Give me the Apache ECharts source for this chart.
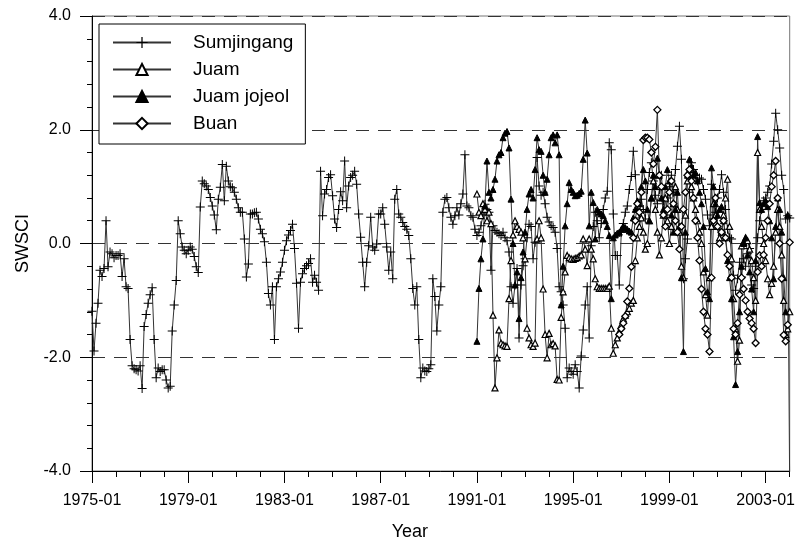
<!DOCTYPE html>
<html>
<head>
<meta charset="utf-8">
<script src="https://cdn.jsdelivr.net/npm/echarts@6/dist/echarts.min.js"></script>
<style>
  html, body { margin: 0; padding: 0; background: #fff; }
  #main { width: 798px; height: 546px; }
</style>
</head>
<body>
<div id="main"></div>
<script>
// monthly categories 1975-01 .. 2004-01
var months = [];
for (var y = 1975; y <= 2004; y++) {
  for (var mo = 1; mo <= 12; mo++) {
    if (y == 2004 && mo > 1) break;
    months.push(y + '-' + (mo < 10 ? '0' + mo : mo));
  }
}

var yTicks = [-4, -2, 0, 2, 4];

// Sumjingang, 1975-01 .. 2004-01
var sumjingang = [
  -1.19, -1.89, -1.40, -1.05, -0.47, -0.58, -0.44, 0.40, -0.41, -0.15, -0.18, -0.25,
  -0.21, -0.21, -0.18, -0.58, -0.27, -0.76, -0.79, -1.69, -2.15, -2.20, -2.22, -2.24,
  -2.15, -2.55, -1.46, -1.25, -1.05, -0.90, -0.78, -1.69, -2.36, -2.19, -2.25, -2.22,
  -2.22, -2.40, -2.54, -2.51, -1.54, -1.08, -0.65, 0.40, 0.17, -0.06, -0.12, -0.18,
  -0.12, -0.06, -0.10, -0.23, -0.41, -0.51, 0.64, 1.10, 1.05, 1.01, 0.95, 0.81,
  0.66, 0.50, 0.24, 0.78, 0.99, 1.39, 0.75, 1.36, 1.10, 1.00, 0.98, 0.90,
  0.78, 0.63, 0.55, 0.55, 0.08, -0.59, -0.36, 0.52, 0.52, 0.54, 0.55, 0.43,
  0.25, 0.17, 0.03, -0.33, -0.88, -1.08, -0.76, -1.69, -0.76, -0.62, -0.50, -0.33,
  -0.12, 0.05, 0.15, 0.23, 0.34, -0.09, -0.70, -1.49, -0.68, -0.53, -0.44, -0.39,
  -0.35, -0.27, -0.68, -0.56, -0.68, -0.82, 1.27, 0.49, 0.87, 0.95, 1.16, 1.21,
  0.84, 0.43, 0.28, 0.60, 0.91, 0.75, 1.45, 0.63, 1.01, 1.16, 1.20, 1.27,
  1.04, 0.52, 0.11, -0.33, -0.76, -0.33, -0.04, 0.46, -0.06, -0.12, -0.01, 0.52,
  0.52, 0.63, 0.34, -0.06, -0.47, -0.15, -0.62, 0.78, 0.95, 0.52, 0.46, 0.37,
  0.30, 0.25, 0.14, -0.27, -0.79, -1.08, -0.76, -1.69, -2.36, -2.19, -2.24, -2.25,
  -2.20, -2.13, -0.62, -0.93, -1.54, -1.08, -0.76, 0.55, 0.78, 0.81, 0.63, 0.46,
  0.34, 0.49, 0.63, 0.50, 0.70, 0.87, 1.56, 0.66, 0.63, 0.49, 0.46, 0.25,
  0.14, 0.20, 0.31, 0.50, 0.69, 0.60, 0.55, -0.47, 0.31, 0.23, 0.20, 0.17,
  0.14, 0.20, 0.10, 0.05, -0.15, -0.76, -1.05, -0.73, -0.44, -1.66, -0.73, -0.39,
  -0.27, 0.10, 0.34, 0.30, -0.27, 0.02, 1.51, 1.01, 0.85, 0.90, 0.70, 0.46,
  0.38, 0.31, 0.28, 0.20, -0.09, -0.76, -0.85, -1.08, -1.49, -2.36, -2.19, -2.25,
  -2.30, -2.13, -2.25, -2.54, -1.98, -1.52, -1.08, -0.76, -1.66, -0.04, 0.30, 0.55,
  0.40, 0.10, 0.35, 0.60, 0.80, 0.92, 1.77, 1.65, 0.52, -0.21, -0.21, -0.73,
  0.20, 0.35, 0.55, 0.66, 0.95, 1.18, 1.62, 1.21, 0.60, 0.45, 0.78, 0.60,
  0.43, 0.95, 1.25, 1.42, 1.10, 0.85, 0.70, 0.95, 1.20, 0.75, 0.50, 0.80,
  1.00, 1.20, 0.90, 1.30, 1.71, 2.06, 1.48, -0.62, -0.27, 0.08, 0.90, 1.42,
  1.30, 1.20, 1.10, 1.15, 1.13, 0.95, 0.78, 0.50, 0.31, 1.04, 0.43, 0.55,
  0.80, 0.95, 1.21, 0.90, 0.60, 0.25, 0.10, 0.08, -0.56, -0.82, -0.62, -0.33,
  -0.59, -0.27, -0.40, -0.18, -0.09, -0.73, -0.79, -0.40, 0.10, 0.40, 0.60, 0.75,
  0.80, 0.90, 1.01, 1.40, 1.80, 2.29, 2.00, 1.68, 1.20, 0.95, 0.43, 0.49,
  0.45
];

// Juam, 1991-01 .. 2004-01
var juamStart = '1991-01';
var juam = [
  0.87, 0.55, 0.49, 0.70, 0.60, 0.40, 0.55, 0.35, -1.26, -2.54, -2.01, -1.52,
  -1.75, -1.78, -1.80, -1.81, -0.97, -0.30, 0.15, 0.40, 0.30, 0.25, 0.20, 0.10,
  -0.27, -1.49, -1.66, -1.78, -1.81, -1.75, 0.08, 0.40, 0.10, -0.80, -1.60, -2.01,
  -1.58, -1.78, -1.76, -1.80, -2.39, -2.40, -1.30, -0.85, -0.50, -0.21, -0.25, -0.27,
  -0.28, -0.26, -0.25, -0.22, -0.20, 0.08, -0.10, -0.39, 0.08, -0.10, -0.27, -0.62,
  -0.76, -0.79, -0.79, -0.79, -0.79, -0.79, -0.75, -1.49, -1.93, -1.78, -1.66, -1.55,
  -1.43, -1.32, -1.26, -1.20, -1.14, -1.05, -1.00, -0.30, 0.10, 0.30, 0.45, 0.20,
  -0.10, 0.00, 0.40, 0.80, 1.10, 0.60, 0.20, -0.20, 0.10, 0.50, 0.80, 0.40,
  0.00, 0.30, 0.70, 1.00, 0.60, 0.20, -0.40, -0.60, 0.50, 1.10, 1.30, 1.00,
  0.80, 0.60, 0.40, 0.20, 0.00, -0.50, -0.90, -1.26, -0.60, 0.30, 0.70, 0.50,
  0.30, 0.10, 0.20, 0.50, 0.80, 1.13, 0.30, -0.27, -0.97, -1.50, -2.07, -1.70,
  -0.04, 0.02, 0.10, 0.05, -0.10, -0.30, -0.60, -1.00, 1.60, 0.60, 0.30, 0.00,
  -0.30, -0.62, -0.90, -0.70, -0.40, 0.20, 0.60, 0.30, -0.20, -1.00, -1.60, -1.50,
  -1.20
];

// Juam jojeol, 1991-01 .. 2004-01
var jojeolStart = '1991-01';
var jojeol = [
  -1.72, -0.79, -0.27, 0.08, 0.66, 1.45, 0.90, 0.80, 0.95, 1.13, 1.45, 1.56,
  1.60, 1.86, 1.94, 1.97, 1.68, 0.78, 0.00, -0.73, -0.50, -1.32, -0.60, -0.15,
  0.20, 0.60, 0.87, 0.95, 0.80, 1.30, 1.86, 1.65, 1.62, 1.20, 0.90, 1.13,
  1.56, 1.86, 1.91, 1.77, 1.91, 1.56, -1.08, -0.40, 0.31, 0.70, 1.07, 0.95,
  0.90, 0.84, 0.85, 0.88, 0.92, 1.48, 2.17, 1.59, 0.31, 0.90, 0.72, 0.08,
  0.60, 0.55, 0.52, 0.49, 0.40, 0.30, 0.14, -0.97, 0.10, 0.15, 0.18, 0.20,
  0.25, 0.31, 0.28, 0.25, 0.22, 0.20, 0.45, 0.60, 0.75, 0.70, 1.00, 1.30,
  1.10, 0.60, 0.40, 0.80, 1.20, 1.00, 1.50, 1.20, 0.80, 0.60, 1.00, 1.30,
  1.10, 0.50, 0.20, 0.60, 0.90, 0.30, -0.60, -1.90, 0.20, 1.20, 1.48, 1.35,
  1.20, 1.25, 1.10, 0.90, 0.70, 0.30, -0.44, -0.85, -0.97, 1.33, 1.00, 0.70,
  0.50, 0.60, 0.65, 0.40, 0.10, -0.30, -0.60, -0.97, -1.64, -2.48, -1.90, -1.20,
  -0.40, 0.00, 0.10, -0.20, -0.50, -0.80, -1.20, -0.30, 1.88, 0.72, 0.60, 0.70,
  0.75, 0.65, 0.40, 0.10, -0.62, 0.30, 0.80, 0.60, 0.20, -0.60, -1.20, 0.50,
  -4.30
];

// Buan, 1996-12 .. 2004-01
var buanStart = '1996-12';
var buan = [
  -1.60,
  -1.50, -1.40, -1.28, -1.02, -0.79, -0.41, 0.10, 0.40, 0.70, 0.55, 0.90, 1.82,
  1.86, 1.86, 1.83, 1.60, 1.40, 1.70, 2.35, 1.20, 1.00, 0.50, 0.30, 0.60,
  0.90, 1.10, 0.70, 0.40, 0.20, -0.10, 0.30, 0.60, 0.90, 1.20, 1.30, 1.10,
  0.80, 0.40, 0.10, -0.30, -0.80, -1.20, -1.50, -1.60, -1.90, -0.60, 0.40, 0.80,
  0.30, 0.00, 0.20, 0.40, 0.10, -0.20, -0.40, -0.60, -1.50, -1.60, -1.40, -0.90,
  -0.60, -0.80, -1.00, -1.20, -1.32, -1.40, -1.50, -1.75, -0.50, -0.21, -0.40, -0.20,
  0.10, 0.40, 0.70, 1.00, 1.20, 1.45, 0.80, 0.00, -0.62, -1.61, -1.72, -1.43,
  0.02
];

function fromMonth(start, values) {
  var out = [];
  var idx = months.indexOf(start);
  for (var i = 0; i < idx; i++) out.push(null);
  return out.concat(values);
}

var plusPath = 'path://M4,0H5V4H9V5H5V9H4V5H0V4H4Z';
var font = 'Liberation Sans, Arial, sans-serif';

var option = {
  animation: false,
  backgroundColor: '#fff',
  textStyle: { fontFamily: font, color: '#000' },
  grid: {
    left: 92, right: 3, top: 16, bottom: 70,
    show: true, borderColor: '#777', borderWidth: 1
  },
  legend: {
    left: 99, top: 24,
    orient: 'vertical',
    backgroundColor: '#fff',
    borderColor: '#000', borderWidth: 1, borderRadius: 0,
    padding: [9, 12, 11, 13],
    itemWidth: 58, itemHeight: 14, itemGap: 8,
    textStyle: { fontSize: 19, fontFamily: font, color: '#000', padding: [0, 0, 0, 17] },
    data: ['Sumjingang', 'Juam', 'Juam jojeol', 'Buan']
  },
  xAxis: [
    {
      type: 'category',
      data: months,
      boundaryGap: false,
      position: 'bottom',
      axisLine: { onZero: false, lineStyle: { color: '#000', width: 1 } },
      axisTick: { interval: 11, length: 6, lineStyle: { color: '#000' } },
      axisLabel: { show: false },
      splitLine: { show: false }
    },
    {
      type: 'category',
      data: months,
      boundaryGap: false,
      position: 'bottom',
      name: 'Year',
      nameLocation: 'middle',
      nameGap: 52,
      nameTextStyle: { fontSize: 18, fontFamily: font, color: '#000', padding: [0, 62, 0, 0] },
      axisLine: { show: false, onZero: false },
      axisTick: { interval: 47, length: 12, lineStyle: { color: '#000' } },
      axisLabel: { interval: 47, margin: 22, fontSize: 16, fontFamily: font, color: '#000' },
      splitLine: { show: false }
    }
  ],
  yAxis: {
    type: 'value',
    min: yTicks[0], max: yTicks[yTicks.length - 1], interval: 2,
    name: 'SWSCI',
    nameLocation: 'middle',
    nameGap: 42,
    nameTextStyle: { fontSize: 18, fontFamily: font, color: '#000' },
    axisLine: { show: true, lineStyle: { color: '#000', width: 1 } },
    axisTick: { show: true, length: 12, lineStyle: { color: '#000' } },
    minorTick: { show: true, splitNumber: 5, length: 5, lineStyle: { color: '#000' } },
    axisLabel: {
      margin: 21, fontSize: 16, fontFamily: font, color: '#000',
      formatter: function(v) { return v.toFixed(1); }
    },
    splitLine: { show: true, lineStyle: { color: '#333', width: 1, type: [13, 9] } }
  },
  series: [
    {
      name: 'Sumjingang',
      type: 'line',
      data: sumjingang,
      symbol: plusPath,
      symbolSize: 9,
      showAllSymbol: true,
      lineStyle: { color: '#333', width: 1 },
      itemStyle: { color: '#000', borderWidth: 0 }
    },
    {
      name: 'Juam',
      type: 'line',
      data: fromMonth(juamStart, juam),
      symbol: 'triangle',
      symbolSize: 6,
      showAllSymbol: true,
      lineStyle: { color: '#333', width: 1 },
      itemStyle: { color: '#fff', borderColor: '#000', borderWidth: 1.2 }
    },
    {
      name: 'Juam jojeol',
      type: 'line',
      data: fromMonth(jojeolStart, jojeol),
      symbol: 'triangle',
      symbolSize: 6,
      showAllSymbol: true,
      lineStyle: { color: '#333', width: 1 },
      itemStyle: { color: '#000', borderColor: '#000', borderWidth: 1 }
    },
    {
      name: 'Buan',
      type: 'line',
      data: fromMonth(buanStart, buan),
      symbol: 'diamond',
      symbolSize: 7,
      showAllSymbol: true,
      lineStyle: { color: '#333', width: 1 },
      itemStyle: { color: '#fff', borderColor: '#000', borderWidth: 1.3 }
    }
  ]
};

var chart = echarts.init(document.getElementById('main'));
chart.setOption(option);
</script>
</body>
</html>
